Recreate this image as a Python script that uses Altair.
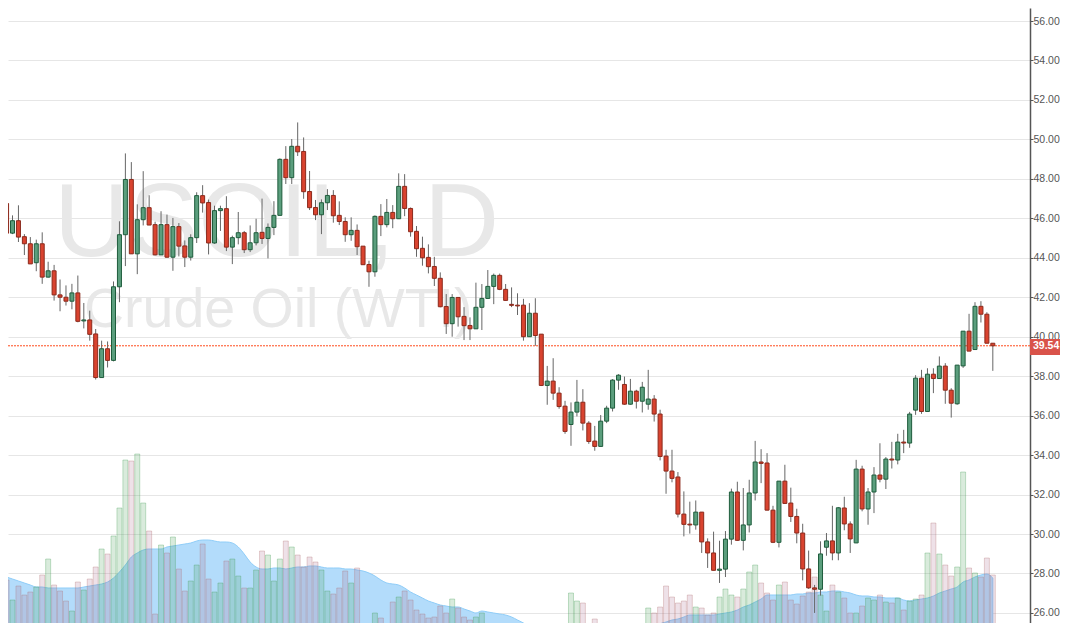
#!/usr/bin/env python3
"""Daily candlestick chart of USOIL with volume bars and a volume average."""

import altair as alt
import pandas as pd

opens = [
    46.75, 45.25, 45.88, 45.07, 44.71, 43.75, 44.71, 43.02, 43.34, 42.12,
    42.00, 41.80, 42.22, 40.80, 40.85, 40.14, 37.93, 39.39, 38.80, 42.53,
    45.17, 47.97, 44.20, 45.93, 46.54, 45.68, 44.15, 45.68, 44.03, 45.58,
    44.60, 44.03, 45.02, 47.15, 46.80, 44.75, 46.39, 46.49, 44.54, 45.02,
    45.27, 44.41, 44.76, 45.29, 44.98, 45.54, 46.15, 48.99, 48.06, 49.65,
    49.39, 47.36, 46.55, 46.18, 46.79, 47.16, 46.15, 45.84, 45.17, 45.39,
    44.59, 43.66, 43.29, 46.10, 45.68, 46.30, 45.98, 47.62, 46.50, 45.34,
    44.48, 44.02, 43.56, 42.96, 41.53, 40.66, 41.99, 41.03, 40.57, 40.40,
    41.49, 41.94, 42.55, 43.11, 42.40, 41.64, 41.60, 41.60, 40.00, 41.19,
    40.13, 37.53, 37.75, 37.14, 36.48, 35.55, 36.18, 36.68, 35.62, 34.71,
    34.44, 35.72, 36.38, 37.80, 37.58, 36.58, 37.24, 36.73, 36.58, 36.84,
    36.08, 33.95, 33.19, 32.89, 31.01, 30.50, 30.46, 31.11, 29.60, 29.04,
    28.16, 28.22, 29.74, 32.13, 29.68, 30.46, 32.08, 33.65, 33.60, 31.21,
    29.58, 32.68, 31.57, 30.89, 30.05, 28.23, 27.27, 27.20, 29.33, 29.65,
    29.04, 31.32, 30.51, 29.55, 33.29, 31.27, 32.13, 32.99, 32.78, 33.80,
    33.75, 34.66, 34.61, 36.28, 37.90, 36.21, 38.10, 37.88, 38.51, 37.29,
    36.60, 38.52, 40.28, 39.35, 41.54, 41.14, 39.67,
]
closes = [
    45.25, 45.88, 45.05, 44.71, 43.69, 44.71, 43.02, 43.34, 42.12, 42.00,
    41.80, 42.22, 40.78, 40.85, 40.12, 37.93, 39.39, 38.80, 42.53, 45.17,
    47.97, 44.20, 45.93, 46.54, 45.66, 44.15, 45.68, 44.03, 45.58, 44.59,
    44.03, 45.02, 47.15, 46.78, 44.75, 46.39, 46.49, 44.54, 45.02, 45.27,
    44.41, 44.76, 45.27, 44.98, 45.54, 46.15, 48.99, 48.06, 49.65, 49.37,
    47.35, 46.54, 46.18, 46.79, 47.16, 46.13, 45.84, 45.17, 45.39, 44.56,
    43.65, 43.29, 46.10, 45.68, 46.30, 45.98, 47.62, 46.50, 45.32, 44.46,
    44.00, 43.55, 42.96, 41.52, 40.66, 41.99, 41.01, 40.56, 40.40, 41.49,
    41.94, 42.55, 43.11, 42.40, 41.84, 41.59, 41.56, 40.00, 41.19, 40.06,
    37.53, 37.75, 37.14, 36.46, 35.20, 36.18, 36.68, 35.62, 34.69, 34.44,
    35.72, 36.38, 37.80, 38.05, 36.58, 37.24, 36.73, 37.44, 36.84, 36.08,
    33.93, 33.19, 32.82, 31.01, 30.49, 30.46, 31.11, 29.60, 29.04, 28.16,
    28.22, 29.74, 32.13, 29.68, 30.46, 32.08, 33.65, 33.58, 31.21, 29.58,
    32.68, 31.55, 30.89, 30.05, 28.23, 27.27, 27.20, 28.99, 29.65, 29.04,
    31.33, 30.51, 29.75, 33.29, 31.27, 32.13, 32.99, 32.78, 33.80, 33.75,
    34.66, 34.61, 36.08, 37.90, 36.21, 38.10, 37.88, 38.51, 37.29, 36.63,
    38.56, 40.28, 39.27, 41.54, 41.14, 39.67, 39.54,
]
highs = [
    46.80, 46.15, 46.66, 45.20, 45.05, 44.92, 45.29, 43.80, 43.64, 42.90,
    42.60, 42.68, 43.10, 41.71, 41.32, 40.39, 39.80, 39.76, 42.80, 45.85,
    49.29, 48.85, 46.71, 48.39, 47.17, 45.83, 46.36, 46.19, 46.02, 45.76,
    44.88, 45.19, 47.32, 47.68, 46.95, 46.64, 46.64, 47.12, 45.12, 46.32,
    45.36, 45.64, 45.98, 47.00, 45.74, 46.87, 49.04, 49.66, 50.02, 50.86,
    50.10, 48.40, 46.93, 46.96, 47.48, 47.43, 46.86, 46.05, 46.05, 45.69,
    44.59, 43.85, 46.15, 46.72, 46.98, 46.67, 48.28, 48.24, 46.55, 45.61,
    45.07, 44.68, 44.05, 43.26, 42.16, 42.16, 41.99, 41.50, 40.98, 42.74,
    42.67, 43.38, 43.20, 43.20, 42.67, 42.50, 42.20, 41.92, 41.70, 41.95,
    40.13, 38.52, 38.91, 37.44, 36.75, 36.67, 37.81, 37.34, 35.72, 35.48,
    36.03, 36.50, 37.85, 38.10, 37.98, 37.86, 37.31, 37.71, 38.32, 37.04,
    36.30, 34.27, 34.27, 33.14, 32.16, 31.64, 31.70, 31.11, 29.78, 30.12,
    29.66, 30.15, 32.30, 32.65, 32.33, 32.75, 34.72, 34.30, 34.10, 31.43,
    32.68, 33.51, 32.35, 31.28, 30.52, 29.16, 27.42, 29.63, 30.05, 31.43,
    31.37, 31.89, 30.64, 33.76, 33.46, 32.33, 33.39, 34.60, 33.90, 34.67,
    35.08, 35.28, 36.19, 38.05, 38.32, 38.40, 38.40, 39.00, 38.66, 37.39,
    38.56, 40.28, 41.16, 41.75, 41.80, 41.24, 39.67,
]
lows = [
    45.05, 45.20, 44.80, 44.14, 43.69, 43.32, 42.68, 43.00, 41.83, 41.29,
    41.58, 41.39, 40.73, 40.42, 39.80, 37.83, 37.93, 38.44, 38.75, 41.75,
    43.58, 44.20, 43.17, 45.64, 45.66, 44.12, 44.15, 44.00, 43.34, 44.07,
    43.53, 43.86, 44.75, 46.29, 44.17, 44.71, 45.36, 44.34, 43.68, 44.68,
    44.24, 44.29, 44.63, 44.70, 43.97, 45.15, 46.15, 47.74, 47.74, 49.16,
    46.99, 46.42, 45.91, 45.20, 46.42, 45.78, 45.66, 44.81, 44.86, 44.14,
    43.65, 42.53, 43.04, 45.10, 45.54, 45.50, 45.98, 46.11, 45.07, 44.05,
    43.60, 43.21, 42.57, 41.49, 40.14, 40.00, 40.51, 39.83, 39.83, 40.40,
    40.34, 41.91, 41.65, 42.36, 41.82, 41.50, 41.10, 39.80, 40.00, 39.54,
    37.50, 36.55, 36.80, 36.35, 35.08, 34.47, 35.96, 35.25, 34.57, 34.22,
    34.44, 35.62, 36.21, 37.31, 36.55, 36.55, 36.36, 36.16, 36.30, 35.70,
    33.73, 32.04, 32.62, 30.84, 29.88, 30.02, 30.22, 29.04, 28.28, 28.16,
    27.52, 27.82, 29.46, 29.65, 29.17, 30.08, 31.70, 32.58, 31.20, 29.54,
    29.32, 31.54, 30.61, 29.53, 27.65, 27.22, 26.00, 26.88, 28.90, 28.67,
    28.67, 30.19, 29.04, 29.54, 31.15, 30.47, 31.06, 32.62, 32.28, 33.32,
    33.53, 34.10, 34.37, 36.04, 36.09, 36.21, 37.14, 37.88, 36.60, 35.90,
    36.55, 38.42, 39.27, 39.35, 40.72, 39.67, 38.27,
]
volumes = [
    60, 40, 54, 45, 48, 53, 65, 81, 55, 49, 39, 29, 58, 50, 61, 73, 91, 86, 104, 132,
    180, 179, 186, 137, 109, 26, 95, 87, 103, 71, 49, 59, 75, 96, 61, 48, 57, 79, 81, 64,
    52, 52, 70, 89, 85, 59, 81, 99, 93, 85, 73, 83, 78, 70, 49, 46, 52, 69, 57, 72,
    13, 13, 27, 22, 10, 38, 43, 49, 40, 30, 26, 22, 23, 34, 27, 41, 32, 23, 20, 23,
    27, 10, 10, 10, 10, 10, 10, 10, 10, 10, 10, 10, 10, 10, 10, 47, 39, 37, 12, 21,
    10, 10, 10, 10, 10, 10, 10, 10, 32, 27, 33, 54, 43, 37, 39, 45, 33, 32, 25, 27,
    43, 51, 45, 43, 51, 68, 75, 57, 47, 40, 55, 58, 40, 36, 44, 48, 63, 45, 29, 55,
    48, 42, 27, 27, 34, 42, 40, 45, 38, 37, 42, 30, 39, 41, 45, 87, 117, 86, 75, 64,
    73, 168, 72, 67, 63, 82, 65,
]
volume_avg = [
    63, 61, 59, 57, 55, 53, 53, 52, 52, 52, 52, 52, 52, 53, 54, 55, 56, 58, 62, 68,
    75, 83, 87, 90, 91, 91, 91, 93, 94, 95, 96, 97, 99, 100, 100, 99, 98, 98, 97, 93,
    86, 78, 73, 71, 71, 72, 72, 71, 72, 73, 73, 74, 74, 73, 72, 72, 72, 71, 71, 70,
    69, 67, 64, 60, 57, 56, 55, 52, 48, 45, 42, 39, 37, 35, 34, 33, 33, 31, 29, 27,
    29, 28, 27, 26, 25, 23, 20, 17, 14, 11, 9, 8, 8, 8, 8, 8, 8, 8, 8, 8,
    8, 8, 8, 8, 8, 8, 8, 8, 8, 10, 16, 18, 20, 21, 23, 25, 25, 25, 25, 25,
    26, 27, 28, 30, 33, 35, 38, 41, 45, 45, 45, 45, 45, 46, 46, 47, 47, 48, 48, 49,
    49, 48, 47, 45, 44, 44, 43, 43, 42, 42, 42, 40, 39, 40, 41, 42, 44, 47, 49, 51,
    53, 58, 60, 63, 65, 66, 62,
]
price_ticks = list(range(26, 58, 2))
session_ticks = [0, 21, 43, 65, 86, 108, 128, 149, 163]
last_price = 39.54

df = pd.DataFrame({
    'Bar': range(len(opens)),
    'Open': opens,
    'High': highs,
    'Low': lows,
    'Close': closes,
    'Volume': volumes,
    'VolumeAvg': volume_avg,
})
df['Direction'] = ['up' if c >= o else 'down' for o, c in zip(opens, closes)]

GRID = '#e6e6e6'
AXIS = '#555555'
FONT = 'Liberation Sans'

# The page margin takes 8px, so the plot is 1022 by 615
x_scale = alt.Scale(domain=[1.0833, 171.4167], nice=False, zero=False)
price_scale = alt.Scale(domain=[25.49, 56.66], nice=False, zero=False)
volume_scale = alt.Scale(domain=[17, 632], nice=False, zero=False)
directions = ['up', 'down']

x_axis = alt.X(
    'Bar:Q', scale=x_scale, title=None,
    axis=alt.Axis(values=session_ticks, labels=False, ticks=False, domain=False, gridColor=GRID),
)
x_plain = alt.X('Bar:Q', scale=x_scale, axis=None)

# Grid and the price axis on the right
frame = alt.Chart(df).mark_rule(opacity=0).encode(
    x=x_axis,
    y=alt.Y(
        'Low:Q', scale=price_scale, title=None,
        axis=alt.Axis(
            orient='right', values=price_ticks, format='.2f', gridColor=GRID,
            domainColor=AXIS, domainWidth=1.5, tickColor=AXIS, tickSize=3,
            labelColor=AXIS, labelFont=FONT, labelFontSize=10.5, labelPadding=0,
        ),
    ),
)

# Watermark
watermark = alt.Chart(pd.DataFrame({'t': ['USOIL, D']})).mark_text(
    align='left', baseline='alphabetic', font=FONT, fontSize=104, color='#e8e8e8'
).encode(x=alt.value(46), y=alt.value(248), text='t:N')
subtitle = alt.Chart(pd.DataFrame({'t': ['Crude Oil (WTI)']})).mark_text(
    align='left', baseline='alphabetic', font=FONT, fontSize=55.5, color='#e8e8e8'
).encode(x=alt.value(76), y=alt.value(319), text='t:N')

# Volume average and volume bars
avg_area = alt.Chart(df).mark_area(
    interpolate='monotone', clip=True, color='#b3dcfb', stroke='#8fcdf8', strokeWidth=1
).encode(
    x=x_plain,
    y=alt.Y('VolumeAvg:Q', scale=volume_scale, axis=None),
    y2=alt.datum(0),
)
volume_bars = alt.Chart(df).mark_bar(size=5, clip=True, strokeWidth=1, fillOpacity=0.2, strokeOpacity=0.3).encode(
    x=x_plain,
    y=alt.Y('Volume:Q', scale=volume_scale, axis=None),
    y2=alt.datum(0),
    fill=alt.Fill('Direction:N', legend=None,
                  scale=alt.Scale(domain=directions, range=['#3f9d50', '#a8688a'])),
    stroke=alt.Stroke('Direction:N', legend=None,
                      scale=alt.Scale(domain=directions, range=['#3f9d50', '#b06a6a'])),
)

# Last price line
price_line = alt.Chart(pd.DataFrame({'p': [last_price]})).mark_rule(
    color='#ff4a1c', strokeWidth=1, strokeDash=[2, 1]
).encode(y=alt.Y('p:Q', scale=price_scale, axis=None))

# Candles
wicks = alt.Chart(df).mark_rule(color='#666666', strokeWidth=1, clip=True).encode(
    x=x_plain,
    y=alt.Y('High:Q', scale=price_scale, axis=None),
    y2='Low:Q',
)
bodies = alt.Chart(df).mark_bar(size=4, strokeWidth=1, clip=True).encode(
    x=x_plain,
    y=alt.Y('Open:Q', scale=price_scale, axis=None),
    y2='Close:Q',
    fill=alt.Fill('Direction:N', legend=None,
                  scale=alt.Scale(domain=directions, range=['#5b9e7d', '#d9432f'])),
    stroke=alt.Stroke('Direction:N', legend=None,
                      scale=alt.Scale(domain=directions, range=['#1e5c3c', '#8b2a1c'])),
)

# Last price tag on the axis
tag_box = alt.Chart(pd.DataFrame({'p': [last_price]})).mark_rect(color='#d9534a').encode(
    x=alt.value(1022), x2=alt.value(1052), y=alt.value(331), y2=alt.value(347)
)
tag_text = alt.Chart(pd.DataFrame({'p': [last_price]})).mark_text(
    align='left', baseline='middle', font=FONT, fontSize=10.5, fontWeight='bold', color='white'
).encode(
    x=alt.value(1025),
    y=alt.Y('p:Q', scale=price_scale, axis=None),
    text=alt.Text('p:Q', format='.2f'),
)

chart = alt.layer(
    frame, watermark, subtitle, avg_area, volume_bars, price_line, wicks, bodies, tag_box, tag_text
).resolve_scale(
    y='independent', fill='independent', stroke='independent'
).properties(
    width=1022,
    height=615,
    background='white',
    padding={'left': 0, 'top': 0, 'right': 30, 'bottom': 0},
    autosize=alt.AutoSizeParams(type='none'),
).configure_view(stroke=None)

chart.save("out.html", embed_options={"renderer": "svg", "actions": False})
